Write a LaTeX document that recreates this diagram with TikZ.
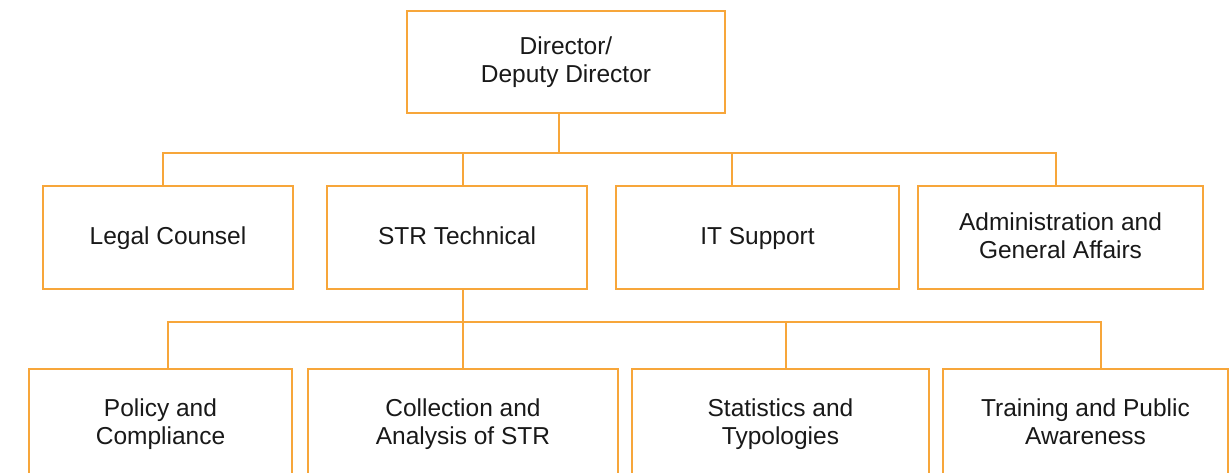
\documentclass[tikz,border=0pt]{standalone}
\usepackage{fontspec}
\setmainfont{Liberation Sans}
\definecolor{orgline}{RGB}{247,166,58}
\definecolor{txt}{RGB}{25,25,25}
\lineskiplimit=-30pt
\newcommand\mystrut{\rule[-6pt]{0pt}{25.5pt}}
\tikzset{
  unitbox/.style={draw=orgline, line width=2pt, fill=white, text=txt, align=center,
    inner sep=0pt, font=\fontsize{24.5}{28}\selectfont},
  link/.style={draw=orgline, line width=2pt, line join=miter}
}
\begin{document}
\begin{tikzpicture}[x=1pt,y=-1pt]
\useasboundingbox (0,0) rectangle (1231,472);
\begin{scope}
\clip (0,0) rectangle (1231,472);
% top
\node[unitbox, minimum width=318pt, minimum height=102pt] (top) at (566,62) {\mystrut Director/\\\mystrut Deputy Director};
% second row
\node[unitbox, minimum width=250pt, minimum height=103pt] (legal) at (168,237.5) {\mystrut Legal Counsel};
\node[unitbox, minimum width=260pt, minimum height=103pt] (str) at (457,237.5) {\mystrut STR Technical};
\node[unitbox, minimum width=283pt, minimum height=103pt] (it) at (757.5,237.5) {\mystrut IT Support};
\node[unitbox, minimum width=285pt, minimum height=103pt] (admin) at (1060.5,237.5) {\mystrut Administration and\\\mystrut General Affairs};
% third row
\node[unitbox, minimum width=263pt, minimum height=110pt] (policy) at (160.5,424) {\mystrut Policy and\\\mystrut Compliance};
\node[unitbox, minimum width=310pt, minimum height=110pt] (coll) at (463,424) {\mystrut Collection and\\\mystrut Analysis of STR};
\node[unitbox, minimum width=297pt, minimum height=110pt] (stat) at (780.5,424) {\mystrut Statistics and\\\mystrut Typologies};
\node[unitbox, minimum width=285pt, minimum height=110pt] (train) at (1085.5,424) {\mystrut Training and Public\\\mystrut Awareness};
% bus coordinates
\coordinate (ta) at (559,153);
\coordinate (aL) at (163,153);
\coordinate (aR) at (1056,153);
\coordinate (aS) at (463,153);
\coordinate (aI) at (732,153);
\coordinate (tb) at (463,322);
\coordinate (bL) at (168,322);
\coordinate (bR) at (1101,322);
\coordinate (bS) at (786,322);
% connectors
\draw[link] (top.south -| ta) -- (ta);
\draw[link] (legal.north -| aL) -- (aL) -- (aR) -- (admin.north -| aR);
\draw[link] (aS) -- (str.north -| aS);
\draw[link] (aI) -- (it.north -| aI);
\draw[link] (str.south -| tb) -- (tb);
\draw[link] (policy.north -| bL) -- (bL) -- (bR) -- (train.north -| bR);
\draw[link] (tb) -- (coll.north -| tb);
\draw[link] (bS) -- (stat.north -| bS);
\end{scope}
\end{tikzpicture}
\end{document}
